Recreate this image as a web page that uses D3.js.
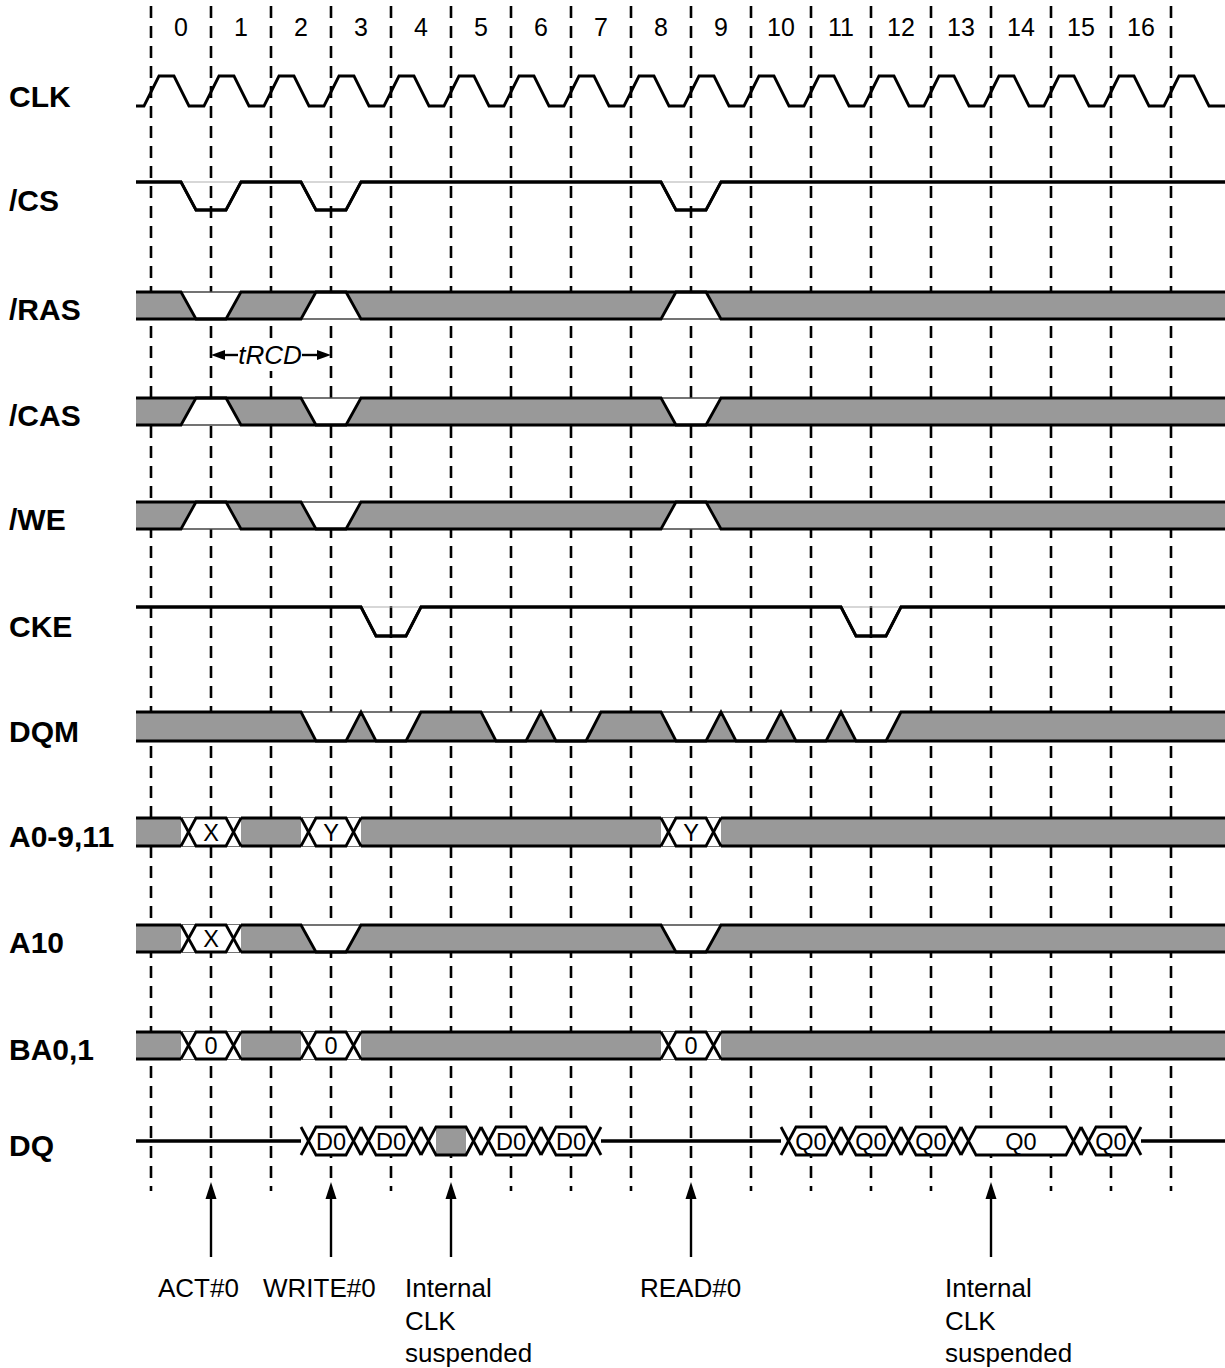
<!DOCTYPE html>
<html><head><meta charset="utf-8">
<script src="https://cdn.jsdelivr.net/npm/d3@7"></script>
<style>body{margin:0;background:#fff}svg{display:block}</style>
</head><body>
<svg id="chart" width="1225" height="1368"></svg>
<script>
// ---------------- data ----------------
const clockLabels = ["0","1","2","3","4","5","6","7","8","9","10","11","12","13","14","15","16"];
const signalNames = ["CLK","/CS","/RAS","/CAS","/WE","CKE","DQM","A0-9,11","A10","BA0,1","DQ"];
// waves: [state, start cycle, label]  states: H high, L low, X don't care, Z float, V valid data, G masked data
const csWave   = [["H",-0.25],["L",0.5],["H",1.25],["L",2.5],["H",3.25],["L",8.5],["H",9.25]];
const rasWave  = [["X",-0.25],["L",0.5],["X",1.25],["H",2.5],["X",3.25],["H",8.5],["X",9.25]];
const casWave  = [["X",-0.25],["H",0.5],["X",1.25],["L",2.5],["X",3.25],["L",8.5],["X",9.25]];
const weWave   = [["X",-0.25],["H",0.5],["X",1.25],["L",2.5],["X",3.25],["H",8.5],["X",9.25]];
const ckeWave  = [["H",-0.25],["L",3.5],["H",4.25],["L",11.5],["H",12.25]];
const dqmWave  = [["X",-0.25],["L",2.5],["X",3.25],["L",3.5],["X",4.25],["L",5.5],["X",6.25],["L",6.5],["X",7.25],
                  ["L",8.5],["X",9.25],["L",9.5],["X",10.25],["L",10.5],["X",11.25],["L",11.5],["X",12.25]];
const addrWave = [["X",-0.25],["V",0.5,"X"],["X",1.5],["V",2.5,"Y"],["X",3.5],["V",8.5,"Y"],["X",9.5]];
const a10Wave  = [["X",-0.25],["V",0.5,"X"],["X",1.5],["L",2.5],["X",3.25],["L",8.5],["X",9.25]];
const baWave   = [["X",-0.25],["V",0.5,"0"],["X",1.5],["V",2.5,"0"],["X",3.5],["V",8.5,"0"],["X",9.5]];
const dqWave   = [["Z",-0.25],["V",2.5,"D0"],["V",3.5,"D0"],["G",4.5,""],["V",5.5,"D0"],["V",6.5,"D0"],["Z",7.5],
                  ["V",10.5,"Q0"],["V",11.5,"Q0"],["V",12.5,"Q0"],["V",13.5,"Q0"],["V",15.5,"Q0"],["Z",16.5]];
const commandLabels = [["ACT#0"],["WRITE#0"],["Internal","CLK","suspended"],["READ#0"],["Internal","CLK","suspended"]];
const commandCycles = [1,3,5,9,14];
const trcdLabel = "tRCD";
const trcdCycles = [1,3];

// ---------------- layout ----------------
const svg = d3.select("#chart");
const x = d3.scaleLinear().domain([0,17]).range([151,1171]);
const S = 15;                 // transition slant in px
const T0 = -0.25, T1 = 17.9;  // drawn extent
const rowTop = [76,182,292,398,502,607,712,818,925,1032,1127];
const rowH   = [30,28,27,27,27,29,29,28,27,27,28];
const GRAY = "#999999", LW = 2.8;
const FONT = "'Liberation Sans', Arial, Helvetica, sans-serif";

const gGrid = svg.append("g");
const gRows = svg.append("g");
const gText = svg.append("g");

// dashed cycle lines
d3.range(0,18).forEach(k=>{
  const isArrow = commandCycles.includes(k);
  gGrid.append("line").attr("x1",x(k)).attr("x2",x(k)).attr("y1",6).attr("y2",isArrow?1180:1191)
    .attr("stroke","#000").attr("stroke-width",2.6).attr("stroke-dasharray","12,8");
});

// clock numbers
gText.selectAll("text.num").data(clockLabels).join("text")
  .attr("x",(d,i)=>x(i+0.5)).attr("y",36).attr("text-anchor","middle")
  .attr("font-family",FONT).attr("font-size",25).text(d=>d);

// row labels
gText.selectAll("text.lbl").data(signalNames).join("text")
  .attr("x",9).attr("y",(d,i)=>rowTop[i]+rowH[i]+1)
  .attr("font-family",FONT).attr("font-weight","bold").attr("font-size",30).text(d=>d);

const line = d3.line();

function lev(state, top, bot){
  const mid=(top+bot)/2;
  if(state==="X") return [top,bot];
  if(state==="H") return [top,top];
  if(state==="L") return [bot,bot];
  return [mid,mid];
}

function drawWave(wave, i, kind){
  const top=rowTop[i], bot=rowTop[i]+rowH[i], mid=(top+bot)/2;
  const g=gRows.append("g");
  const segs = wave.map((w,j)=>({state:w[0], a:w[1], b:(j+1<wave.length?wave[j+1][1]:T1), label:w[2]}));
  if(kind==="bar"){
    g.append("rect").attr("x",x(T0)).attr("y",top).attr("width",x(T1)-x(T0)).attr("height",bot-top).attr("fill","#fff");
    [top,bot].forEach(yy=>g.append("line").attr("x1",x(T0)).attr("x2",x(T1)).attr("y1",yy).attr("y2",yy)
      .attr("stroke","#444").attr("stroke-width",1.6));
  } else if(kind==="line"){
    g.append("line").attr("x1",x(T0)).attr("x2",x(T1)).attr("y1",top).attr("y2",top)
      .attr("stroke","#b0b0b0").attr("stroke-width",1.2);
  }
  // group into runs of non-data segments
  const runs=[]; let cur=null;
  segs.forEach(s=>{
    if(s.state==="V"||s.state==="G"){ cur=null; return; }
    if(!cur){ cur=[]; runs.push(cur); }
    cur.push(s);
  });
  runs.forEach(run=>{
    const up=[], lo=[];
    run.forEach((s,m)=>{
      const L=lev(s.state,top,bot);
      if(m===0){ up.push([x(s.a),L[0]]); lo.push([x(s.a),L[1]]); }
      else{
        const P=lev(run[m-1].state,top,bot);
        up.push([x(s.a),P[0]],[x(s.a)+S,L[0]]);
        lo.push([x(s.a),P[1]],[x(s.a)+S,L[1]]);
      }
      if(m===run.length-1){ up.push([x(s.b),L[0]]); lo.push([x(s.b),L[1]]); }
    });
    g.append("path").attr("d",line(up.concat(lo.slice().reverse()))+"Z").attr("fill",GRAY).attr("stroke","none");
    [up,lo].forEach(p=>g.append("path").attr("d",line(p)).attr("fill","none").attr("stroke","#000")
      .attr("stroke-width",LW).attr("stroke-linejoin","miter"));
  });
  // data cells
  segs.filter(s=>s.state==="V"||s.state==="G").forEach(s=>{
    const xa=x(s.a), xb=x(s.b);
    g.append("rect").attr("x",xa).attr("y",top).attr("width",xb-xa).attr("height",bot-top).attr("fill","#fff");
    const hex=[[xa+S/2,mid],[xa+S,top],[xb-S,top],[xb-S/2,mid],[xb-S,bot],[xa+S,bot]];
    g.append("path").attr("d",line(hex)+"Z").attr("fill","#fff").attr("stroke","none");
    if(s.state==="G"){
      g.append("rect").attr("x",xa+S).attr("y",top).attr("width",xb-xa-2*S).attr("height",bot-top).attr("fill",GRAY);
    }
    g.append("path").attr("d",line(hex)+"Z").attr("fill","none").attr("stroke","#000").attr("stroke-width",LW);
    [[[xa,top],[xa+S/2,mid]],[[xa,bot],[xa+S/2,mid]],[[xb-S/2,mid],[xb,top]],[[xb-S/2,mid],[xb,bot]]]
      .forEach(p=>g.append("path").attr("d",line(p)).attr("stroke","#000").attr("stroke-width",LW));
    if(s.label){
      g.append("text").attr("x",(xa+xb)/2).attr("y",mid+8.5).attr("text-anchor","middle")
        .attr("font-family",FONT).attr("font-size",23.5).text(s.label);
    }
  });
}

// clock
(function(){
  const top=rowTop[0], bot=rowTop[0]+rowH[0];
  const pts=[[x(T0),bot]];
  d3.range(0,18).forEach(k=>{
    pts.push([x(k-0.117),bot],[x(k+0.133),top],[x(k+0.383),top],[x(k+0.633),bot]);
  });
  pts.push([x(T1),bot]);
  gRows.append("path").attr("d",line(pts)).attr("fill","none").attr("stroke","#000").attr("stroke-width",LW);
})();

drawWave(csWave,1,"line");
drawWave(rasWave,2,"bar");
drawWave(casWave,3,"bar");
drawWave(weWave,4,"bar");
drawWave(ckeWave,5,"line");
drawWave(dqmWave,6,"bar");
drawWave(addrWave,7,"bar");
drawWave(a10Wave,8,"bar");
drawWave(baWave,9,"bar");
drawWave(dqWave,10,"data");

// tRCD annotation
(function(){
  const y=355, xa=x(trcdCycles[0]), xb=x(trcdCycles[1]), xm=(xa+xb)/2-1;
  const g=gText.append("g");
  g.append("rect").attr("x",xm-34).attr("y",339).attr("width",68).attr("height",32).attr("fill","#fff");
  g.append("line").attr("x1",xa+8).attr("x2",xm-32).attr("y1",y).attr("y2",y).attr("stroke","#000").attr("stroke-width",2.4);
  g.append("line").attr("x1",xm+32).attr("x2",xb-8).attr("y1",y).attr("y2",y).attr("stroke","#000").attr("stroke-width",2.4);
  g.append("path").attr("d",line([[xa,y],[xa+14,y-5],[xa+14,y+5]])+"Z").attr("fill","#000");
  g.append("path").attr("d",line([[xb,y],[xb-14,y-5],[xb-14,y+5]])+"Z").attr("fill","#000");
  g.append("text").attr("x",xm).attr("y",364).attr("text-anchor","middle").attr("font-family",FONT)
    .attr("font-style","italic").attr("font-size",26).text(trcdLabel);
})();

// command arrows & labels
const labelDx = [-53,-68,-46,-51,-46];
commandCycles.forEach((c,i)=>{
  const xc=x(c);
  gText.append("line").attr("x1",xc).attr("x2",xc).attr("y1",1196).attr("y2",1257).attr("stroke","#000").attr("stroke-width",2.4);
  gText.append("path").attr("d",line([[xc,1182],[xc-5.5,1199],[xc+5.5,1199]])+"Z").attr("fill","#000");
  const t=gText.append("text").attr("font-family",FONT).attr("font-size",26);
  commandLabels[i].forEach((s,j)=>{
    t.append("tspan").attr("x",xc+labelDx[i]).attr("y",1297+j*32.5).text(s);
  });
});
</script>
</body></html>
